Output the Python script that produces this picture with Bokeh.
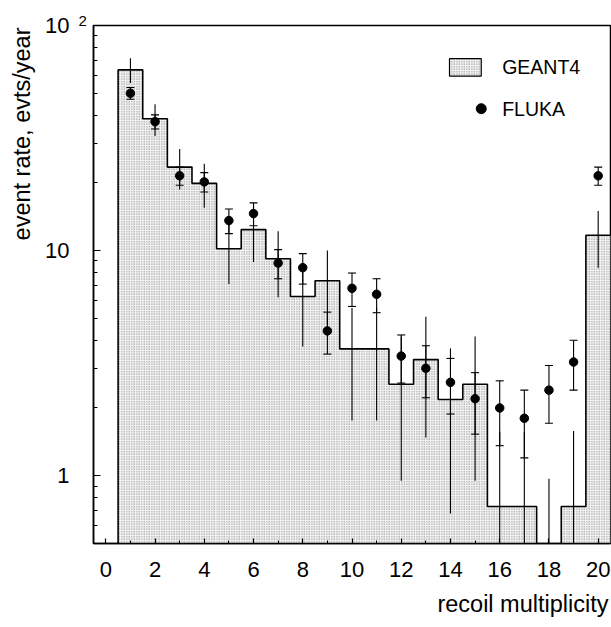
from bokeh.plotting import figure
from bokeh.models import Range1d, FixedTicker, Label, BoxAnnotation, Title
from bokeh.embed import file_html
from bokeh.resources import INLINE

# ---------------- data ----------------
multiplicity = list(range(0, 21))
geant4_rate = [0, 63.5, 38.5, 23.5, 19.9, 10.2, 12.4, 9.2, 6.25, 7.35, 3.66,
               3.66, 2.55, 3.28, 2.18, 2.55, 0.73, 0.73, 0, 0.73, 11.7]
geant4_err = [0, 8.0, 6.2, 4.8, 4.4, 3.1, 3.5, 3.0, 2.5, 2.65, 1.9,
              1.9, 1.6, 1.8, 1.5, 1.6, 0.84, 0.84, 0.97, 0.85, 3.3]

fluka_mult = list(range(1, 21))
fluka_rate = [50, 37.4, 21.5, 20.2, 13.6, 14.6, 8.8, 8.4, 4.4, 6.8,
              6.4, 3.4, 3.0, 2.6, 2.2, 2.0, 1.8, 2.4, 3.2, 21.5]
fluka_err = [3.0, 2.7, 2.0, 2.0, 1.7, 1.7, 1.3, 1.3, 0.93, 1.15,
             1.1, 0.82, 0.78, 0.72, 0.67, 0.64, 0.6, 0.69, 0.8, 2.0]

x_ticks = [0, 2, 4, 6, 8, 10, 12, 14, 16, 18, 20]
x_minor = list(range(0, 21))
y_ticks = [1, 10, 100]
y_tick_labels = {1: "1", 10: "10", 100: "10"}
y_minor = [0.5, 0.6, 0.7, 0.8, 0.9] + list(range(2, 10)) + list(range(20, 100, 10))

FONT = "Liberation Sans"
FLOOR = 1e-3
FILL = "#f4f4f4"
HATCH = "#7a7a7a"

p = figure(width=611, height=627, output_backend="svg", toolbar_location=None,
           x_range=Range1d(-0.5, 20.5), y_range=Range1d(0.5, 100),
           y_axis_type="log",
           min_border_left=93, min_border_right=1, min_border_top=25,
           min_border_bottom=84)
p.grid.visible = False
p.background_fill_color = "white"
p.outline_line_color = "black"
p.outline_line_width = 1.5

# ---------------- GEANT4 histogram ----------------
ql, qr, qt = [], [], []
for m, r in zip(multiplicity, geant4_rate):
    if r > 0:
        ql.append(m - 0.5)
        qr.append(m + 0.5)
        qt.append(r)
p.quad(left=ql, right=qr, top=qt, bottom=[FLOOR] * len(qt),
       fill_color=FILL, line_color=None,
       hatch_pattern="dot", hatch_color=HATCH, hatch_scale=2.5, hatch_weight=1)

sx, sy = [], []
for m, r in zip(multiplicity, geant4_rate):
    h = r if r > 0 else FLOOR
    sx += [m - 0.5, m + 0.5]
    sy += [h, h]
p.line(sx, sy, line_color="black", line_width=1.6)

gx0, gy0, gy1 = [], [], []
for m, r, e in zip(multiplicity, geant4_rate, geant4_err):
    if e > 0:
        gx0.append(m)
        gy0.append(max(r - e, FLOOR))
        gy1.append(r + e)
p.segment(x0=gx0, y0=gy0, x1=gx0, y1=gy1, line_color="black", line_width=1.1)

# ---------------- FLUKA points ----------------
flo = [r - e for r, e in zip(fluka_rate, fluka_err)]
fhi = [r + e for r, e in zip(fluka_rate, fluka_err)]
p.segment(x0=fluka_mult, y0=flo, x1=fluka_mult, y1=fhi, line_color="black", line_width=1.1)
p.scatter(fluka_mult, flo, marker="dash", size=8, line_color="black", line_width=1.1)
p.scatter(fluka_mult, fhi, marker="dash", size=8, line_color="black", line_width=1.1)
p.scatter(fluka_mult, fluka_rate, marker="circle", size=8.5,
          fill_color="black", line_color="black")

# ---------------- axes ----------------
for ax in (p.xaxis[0], p.yaxis[0]):
    ax.axis_line_color = "black"
    ax.axis_line_width = 1.5
    ax.major_tick_line_color = "black"
    ax.minor_tick_line_color = "black"
    ax.major_tick_line_width = 1.2
    ax.minor_tick_line_width = 1.0
    ax.major_tick_out = 0
    ax.minor_tick_out = 0
    ax.major_label_text_font = FONT
    ax.major_label_text_font_size = "22px"
    ax.major_label_text_color = "black"

p.xaxis.ticker = FixedTicker(ticks=x_ticks, minor_ticks=x_minor)
p.xaxis.major_tick_in = 5
p.xaxis.minor_tick_in = 3
p.xaxis.major_label_standoff = 18

p.yaxis.ticker = FixedTicker(ticks=y_ticks, minor_ticks=y_minor)
p.yaxis.major_label_overrides = y_tick_labels
p.yaxis.major_tick_in = 7
p.yaxis.minor_tick_in = 4
p.yaxis.major_label_standoff = 24

# exponent of the top label "10 2"
p.add_layout(Title(text="2", align="left", offset=-15, standoff=0,
                   vertical_align="bottom", text_font=FONT, text_font_size="15px",
                   text_font_style="normal", text_color="black"), "above")

# axis titles (placed like the reference: y title at top, x title at right)
p.add_layout(Title(text="event rate, evts/year", align="right", offset=2, standoff=14,
                   vertical_align="middle", text_font=FONT, text_font_size="23.5px",
                   text_font_style="normal", text_color="black"), "left")
p.add_layout(Title(text="recoil multiplicity", align="right", offset=2, standoff=20,
                   vertical_align="middle", text_font=FONT, text_font_size="23.5px",
                   text_font_style="normal", text_color="black"), "below")

# ---------------- legend ----------------
p.add_layout(BoxAnnotation(left=13.96, right=15.25, bottom=59.6, top=71.2,
                           fill_color=FILL, fill_alpha=1.0,
                           hatch_pattern="dot", hatch_color=HATCH, hatch_scale=2.5,
                           hatch_weight=1, line_color="black", line_width=1.2,
                           line_alpha=1.0))
p.add_layout(Label(x=16.1, y=65.2, text="GEANT4", text_font=FONT, text_font_size="19.5px",
                   text_align="left", text_baseline="middle", text_color="black"))
p.scatter([15.25], [42.7], marker="circle", size=10, fill_color="black", line_color="black")
p.add_layout(Label(x=16.1, y=42.7, text="FLUKA", text_font=FONT, text_font_size="19.5px",
                   text_align="left", text_baseline="middle", text_color="black"))

open("out.html", "w").write(file_html(p, INLINE))
